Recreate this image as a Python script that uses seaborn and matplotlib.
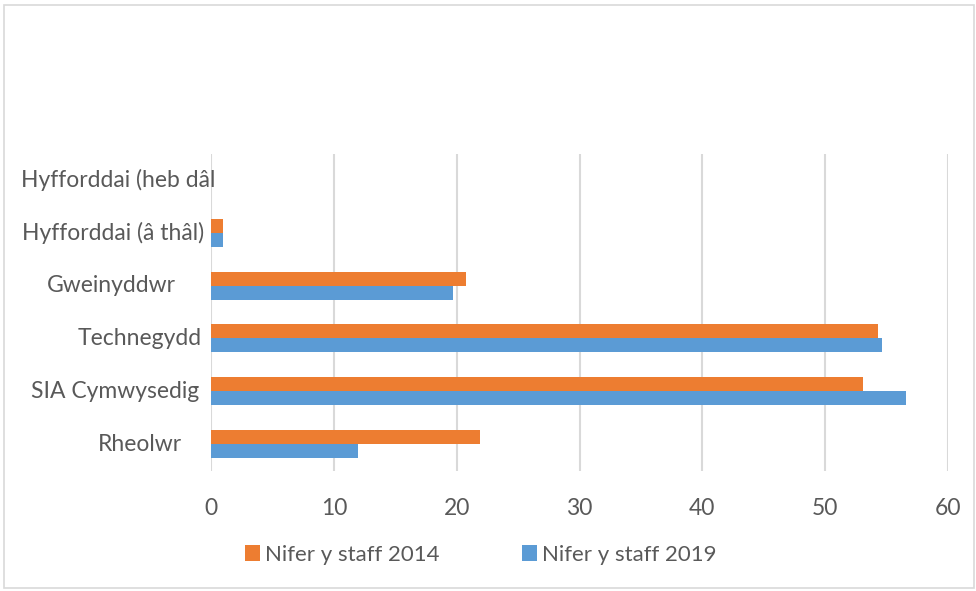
import matplotlib
matplotlib.use("Agg")
import matplotlib.pyplot as plt
import matplotlib.patches as mpatches
import matplotlib.transforms as mtransforms
import seaborn as sns
import pandas as pd

categories = ["Hyfforddai (heb dâl", "Hyfforddai (â thâl)", "Gweinyddwr",
              "Technegydd", "SIA Cymwysedig", "Rheolwr"]
series_names = ["Nifer y staff 2014", "Nifer y staff 2019"]
values_2014 = [0, 1, 20.8, 54.3, 53.1, 21.9]
values_2019 = [0, 1, 19.7, 54.6, 56.6, 12.0]
x_ticks = [0, 10, 20, 30, 40, 50, 60]

colors = ["#ED7D31", "#5B9BD5"]
text_color = "#595959"

df = pd.DataFrame({
    "category": categories * 2,
    "series": [series_names[0]] * len(categories) + [series_names[1]] * len(categories),
    "value": values_2014 + values_2019,
})

sns.set_theme(style="white")
plt.rcParams["font.family"] = ["Lato", "DejaVu Sans"]

fig = plt.figure(figsize=(9.76, 5.91), dpi=100)
ax = fig.add_axes([211 / 976, 1 - 470.5 / 591, (948 - 211) / 976, (470.5 - 153.5) / 591])

sns.barplot(data=df, x="value", y="category", hue="series", order=categories,
            hue_order=series_names, palette=colors, orient="h", width=0.53,
            saturation=1, ax=ax, legend=False, edgecolor="none")

ax.set_xlim(0, 60)
ax.set_ylim(len(categories) - 0.5, -0.5)
ax.set_xticks(x_ticks)
ax.set_xticklabels([str(t) for t in x_ticks], fontsize=16.5, color=text_color)
ax.tick_params(axis="x", length=0, pad=20)
ax.tick_params(axis="y", length=0)
ax.set_xlabel("")
ax.set_ylabel("")
ax.xaxis.grid(True, color="#D9D9D9", linewidth=1.5)
ax.set_axisbelow(True)
for s in ax.spines.values():
    s.set_visible(False)

# category labels (individual right-edge offsets in pixels, as in reference)
ax.set_yticklabels([])
label_offsets_px = [4, -7, -35, -9, -12, -29]
for i, (lab, off) in enumerate(zip(categories, label_offsets_px)):
    tr = mtransforms.blended_transform_factory(ax.transAxes, ax.transData) + \
        mtransforms.ScaledTranslation(off / 100, 0, fig.dpi_scale_trans)
    ax.text(0, i, lab, transform=tr, ha="right", va="center",
            fontsize=16.5, color=text_color)

handles = [mpatches.Patch(facecolor=c, edgecolor="none") for c in colors]
fig.legend(handles, series_names, loc="center", bbox_to_anchor=(481 / 976, 1 - 555 / 591),
           ncol=2, frameon=False, fontsize=16, labelcolor=text_color,
           handlelength=0.68, handleheight=0.75, handletextpad=0.22, columnspacing=3.7,
           borderaxespad=0)

border = mpatches.Rectangle((4 / 976, 1 - 588 / 591), 970 / 976, 583 / 591,
                            transform=fig.transFigure, fill=False,
                            edgecolor="#D9D9D9", linewidth=1.2)
fig.patches.append(border)

fig.savefig("out.png", dpi=100)
